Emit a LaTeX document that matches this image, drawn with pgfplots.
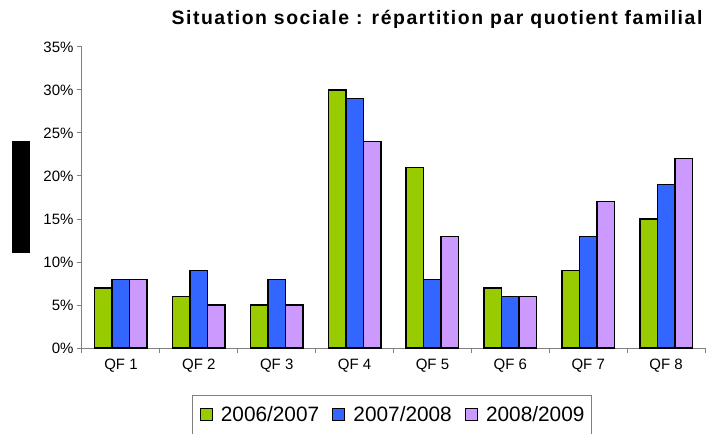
\documentclass[border=0pt]{standalone}
\usepackage{fontspec}
\setmainfont{Liberation Sans}
\newfontfamily\titlefont[LetterSpace=8]{Liberation Sans}
\usepackage{pgfplots}
\pgfplotsset{compat=1.18}
\definecolor{cgreen}{HTML}{99CC00}
\definecolor{cblue}{HTML}{3366FF}
\definecolor{cpurple}{HTML}{CC99FF}
\definecolor{axgray}{HTML}{808080}
\begin{document}
\begin{tikzpicture}
\useasboundingbox (-82bp,-86bp) rectangle (626bp,348bp);
\begin{axis}[
  at={(0,0)}, anchor=south west,
  scale only axis, width=623bp, height=301bp,
  xmin=-0.5, xmax=7.5, ymin=0, ymax=35,
  axis lines*=left,
  axis line style={axgray, line width=1bp},
  every tick/.style={axgray, line width=1bp},
  tick align=outside,
  xtick={0,...,7},
  xticklabels={QF 1,QF 2,QF 3,QF 4,QF 5,QF 6,QF 7,QF 8},
  major x tick style={draw=none},
  minor xtick={-0.5,0.5,...,7.5},
  minor tick length=5bp,
  major tick length=5bp,
  ytick={0,5,...,35},
  yticklabel={\pgfmathprintnumber{\tick}\%},
  /pgf/number format/assume math mode=true,
  ticklabel style={font=\fontsize{15bp}{17bp}\selectfont, black},
  xticklabel style={yshift=-3bp},
  ybar=0pt, bar width=17.5bp,
  every axis plot/.append style={draw=black, line width=1.4bp},
  legend columns=3,
  legend image code/.code={\draw[line width=1.3bp] (0bp,-6bp) rectangle (12bp,6bp);},
  legend style={
    at={(0.4976,-0.156)}, anchor=north,
    draw=axgray, line width=1bp,
    inner xsep=7bp, inner ysep=11bp,
    font=\fontsize{20.8bp}{24bp}\selectfont,
    nodes={inner sep=0pt},
    /tikz/every odd column/.append style={column sep=8bp},
    /tikz/every even column/.append style={column sep=13bp},
  },
]
\addplot[fill=cgreen] coordinates {(0,7) (1,6) (2,5) (3,30) (4,21) (5,7) (6,9) (7,15)};
\addplot[fill=cblue] coordinates {(0,8) (1,9) (2,8) (3,29) (4,8) (5,6) (6,13) (7,19)};
\addplot[fill=cpurple] coordinates {(0,8) (1,5) (2,5) (3,24) (4,13) (5,6) (6,17) (7,22)};
\legend{2006/2007,2007/2008,2008/2009}
\end{axis}
\fill[black] (-70bp,95bp) rectangle (-52bp,207bp);
\node[anchor=base, font=\titlefont\fontsize{19.4bp}{22bp}\selectfont\bfseries, inner sep=0pt] at (355bp,323bp)
  {Situation sociale : répartition par quotient familial};
\end{tikzpicture}
\end{document}
